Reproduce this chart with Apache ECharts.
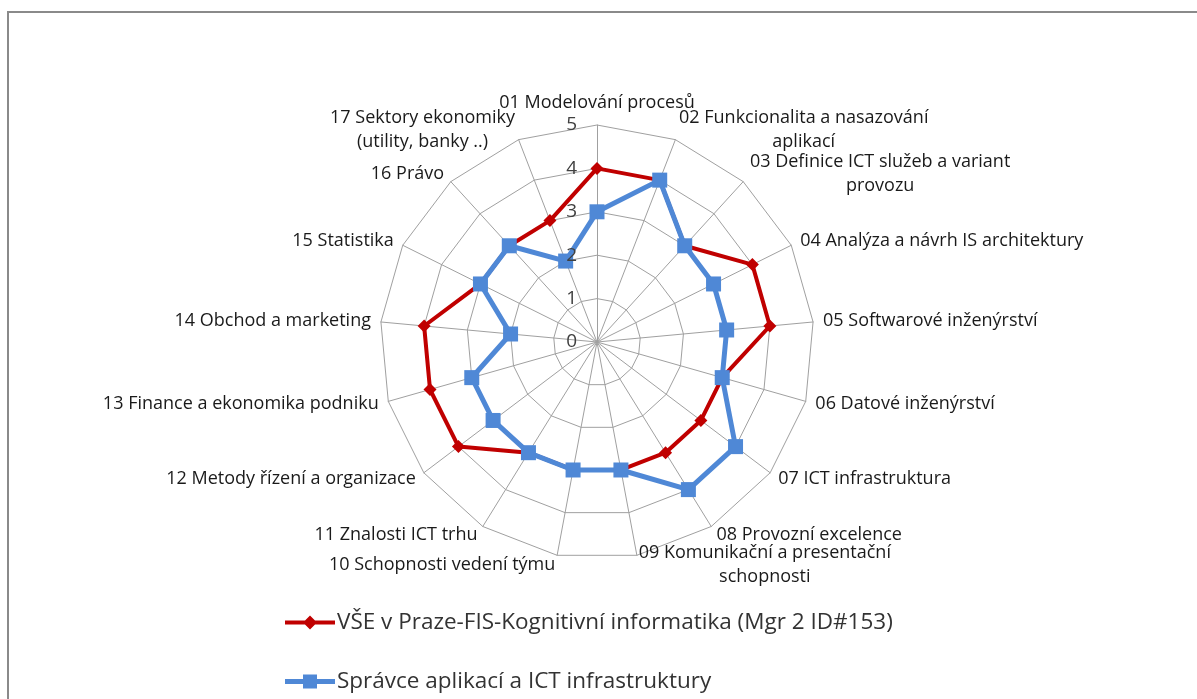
<!DOCTYPE html>
<html>
<head>
<meta charset="utf-8">
<script src="https://cdn.jsdelivr.net/npm/echarts@6/dist/echarts.min.js"></script>
<style>
  html, body { margin: 0; padding: 0; background: #ffffff; }
  #chart { width: 1197px; height: 699px; }
</style>
</head>
<body>
<div id="chart"></div>
<script>
// Competency areas (spokes of the radar), clockwise from the top
const competencies = [
  '01 Modelování procesů',
  '02 Funkcionalita a nasazování\naplikací',
  '03 Definice ICT služeb a variant\nprovozu',
  '04 Analýza a návrh IS architektury',
  '05 Softwarové inženýrství',
  '06 Datové inženýrství',
  '07 ICT infrastruktura',
  '08 Provozní excelence',
  '09 Komunikační a presentační\nschopnosti',
  '10 Schopnosti vedení týmu',
  '11 Znalosti ICT trhu',
  '12 Metody řízení a organizace',
  '13 Finance a ekonomika podniku',
  '14 Obchod a marketing',
  '15 Statistika',
  '16 Právo',
  '17 Sektory ekonomiky\n(utility, banky ..)'
];

const seriesNames = [
  'VŠE v Praze-FIS-Kognitivní informatika (Mgr 2 ID#153)',
  'Správce aplikací a ICT infrastruktury'
];

// Study programme profile
const programmeValues = [4, 4, 3, 4, 4, 3, 3, 3, 3, 3, 3, 4, 4, 4, 3, 3, 3];
// Job role profile
const roleValues = [3, 4, 3, 3, 3, 3, 4, 4, 3, 3, 3, 3, 3, 2, 3, 3, 2];

const scaleMin = 0;
const scaleMax = 5;

const FONT = "'Open Sans', 'Liberation Sans', sans-serif";
const RED = '#c00000';
const BLUE = '#4f88d6';
const CENTER = [597, 342];
const RADIUS = 217;

// ECharts lays indicators out counter-clockwise; keep the first spoke on top
// and walk the rest backwards so the areas run clockwise.
const order = [0];
for (let i = competencies.length - 1; i >= 1; i--) order.push(i);
const pick = (arr) => order.map((i) => arr[i]);

// Legend icons: a line with the series marker in the middle
const redIcon = 'path://M0,5L50,5L50,9L0,9Z M25,0L32,7L25,14L18,7Z';
const blueIcon = 'path://M0,4.5L50,4.5L50,9.5L0,9.5Z M18,0L32,0L32,14L18,14Z';

const gridIndicators = pick(competencies).map((name) => ({ name: name, min: scaleMin, max: scaleMax }));

// Same axes again, used only to print the value scale above the data lines
const scaleIndicators = pick(competencies).map((name, i) => {
  const ind = { name: name, min: scaleMin, max: scaleMax };
  if (i === 0) {
    ind.axisLabel = {
      show: true,
      margin: 20,
      fontSize: 19,
      color: '#404040',
      fontFamily: FONT
    };
  }
  return ind;
});

const chart = echarts.init(document.getElementById('chart'), null, { renderer: 'canvas' });

chart.setOption({
  backgroundColor: '#ffffff',
  animation: false,
  graphic: [{
    type: 'rect',
    silent: true,
    shape: { x: 8, y: 12, width: 1200, height: 700 },
    style: { fill: 'none', stroke: '#8a8a8a', lineWidth: 2 }
  }],
  legend: {
    orient: 'vertical',
    left: 280,
    top: 606,
    height: 95,
    itemWidth: 50,
    itemHeight: 14,
    itemGap: 36,
    textStyle: { fontSize: 22.5, color: '#333333', fontFamily: FONT, padding: [0, 0, 0, -3] },
    data: [
      { name: seriesNames[0], icon: redIcon },
      { name: seriesNames[1], icon: blueIcon }
    ]
  },
  radar: [{
    center: CENTER,
    radius: RADIUS,
    startAngle: 90,
    splitNumber: 5,
    shape: 'polygon',
    indicator: gridIndicators,
    nameGap: 10,
    axisName: {
      color: '#1a1a1a',
      fontSize: 18,
      fontFamily: FONT,
      formatter: function (name) {
        return name.split('\n').map(function (l) { return '{c|' + l + '}'; }).join('\n');
      },
      rich: {
        c: { align: 'center', fontSize: 18, fontFamily: FONT, color: '#1a1a1a', lineHeight: 24 }
      }
    },
    axisLine: { show: true, lineStyle: { color: '#a0a0a0', width: 1 } },
    splitLine: { show: true, lineStyle: { color: '#a0a0a0', width: 1 } },
    splitArea: { show: false },
    axisTick: { show: false },
    axisLabel: { show: false }
  }, {
    z: 5,
    center: CENTER,
    radius: RADIUS,
    startAngle: 90,
    splitNumber: 5,
    shape: 'polygon',
    indicator: scaleIndicators,
    axisName: { show: false },
    axisLine: { show: false },
    splitLine: { show: false },
    splitArea: { show: false },
    axisTick: { show: false },
    axisLabel: { show: false }
  }],
  series: [{
    type: 'radar',
    radarIndex: 0,
    data: [
      {
        name: seriesNames[0],
        value: pick(programmeValues),
        symbol: 'diamond',
        symbolSize: 13,
        itemStyle: { color: RED },
        lineStyle: { color: RED, width: 4 }
      },
      {
        name: seriesNames[1],
        value: pick(roleValues),
        symbol: 'rect',
        symbolSize: 15,
        itemStyle: { color: BLUE },
        lineStyle: { color: BLUE, width: 5 }
      }
    ]
  }]
});
</script>
</body>
</html>
